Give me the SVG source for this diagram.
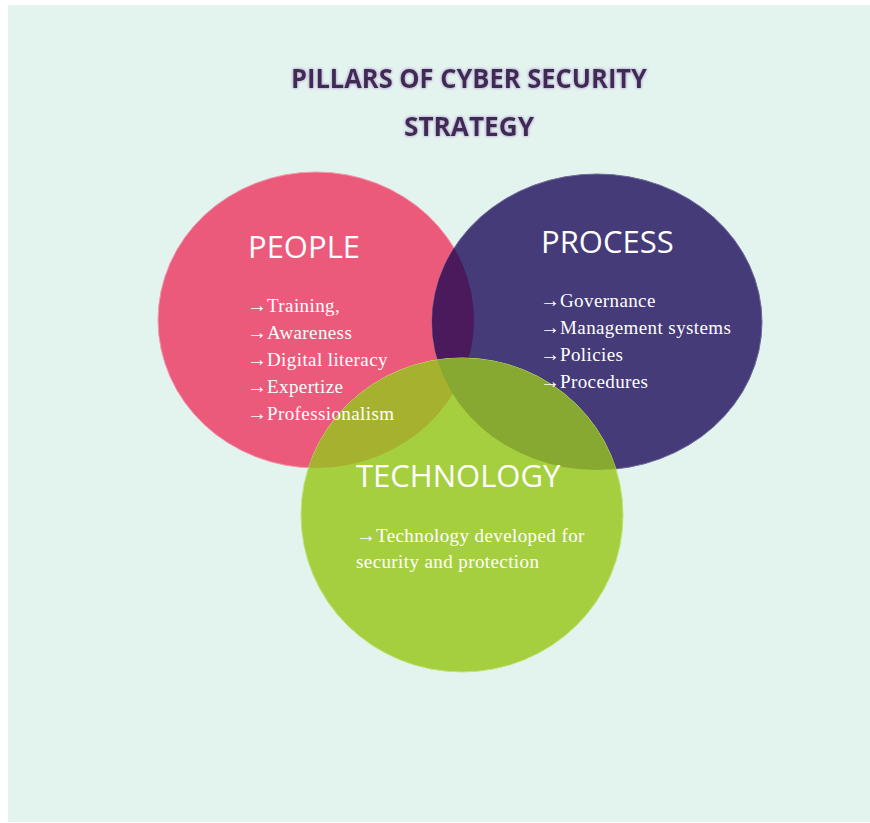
<svg xmlns="http://www.w3.org/2000/svg" width="870" height="823" viewBox="0 0 870 823">
  <style>
    .title { font-family: "Open Sans", "Liberation Sans", sans-serif; font-weight: 700; font-size: 27px; fill: #3F2C55; }
    .head { font-family: "Open Sans", "Liberation Sans", sans-serif; font-size: 31px; fill: #FFFFFF; }
    .item { font-family: "Liberation Serif", "DejaVu Serif", serif; font-size: 19px; letter-spacing: 0.4px; fill: #FFFFFF; }
    .arr { font-size: 20px; letter-spacing: 0; }
  </style>
  <defs>
    <filter id="glow" x="-10%" y="-40%" width="120%" height="180%">
      <feGaussianBlur in="SourceAlpha" stdDeviation="1.6" result="b"/>
      <feFlood flood-color="#B9A8D0" flood-opacity="0.9"/>
      <feComposite in2="b" operator="in" result="g"/>
      <feMerge><feMergeNode in="g"/><feMergeNode in="g"/><feMergeNode in="SourceGraphic"/></feMerge>
    </filter>
    <ellipse id="ePeople" cx="316" cy="320" rx="158" ry="148"/>
    <ellipse id="eProcess" cx="597" cy="322" rx="165" ry="148"/>
    <ellipse id="eTech" cx="462" cy="515" rx="161" ry="157"/>
    <clipPath id="cPeople"><use href="#ePeople"/></clipPath>
    <clipPath id="cProcess"><use href="#eProcess"/></clipPath>
  </defs>

  <rect x="0" y="0" width="870" height="823" fill="#FFFFFF"/>
  <rect x="8" y="5" width="862" height="817" fill="#E3F4EF"/>

  <g id="title" filter="url(#glow)">
    <text class="title" x="469" y="88" text-anchor="middle" textLength="356" lengthAdjust="spacingAndGlyphs">PILLARS OF CYBER SECURITY</text>
    <text class="title" x="469" y="136" text-anchor="middle" textLength="130" lengthAdjust="spacingAndGlyphs">STRATEGY</text>
  </g>

  <!-- circles; overlap lenses are painted with clipped copies -->
  <g id="people-shape">
    <use href="#ePeople" fill="#EB5A7A" stroke="#F29AAE" stroke-width="1"/>
  </g>
  <g id="process-shape">
    <use href="#eProcess" fill="#443B78" stroke="#6F6A99" stroke-width="1"/>
    <use href="#eProcess" fill="#4A1A5C" clip-path="url(#cPeople)"/>
  </g>
  <g id="technology-shape">
    <use href="#eTech" fill="#A5CF3F" stroke="#C3E07A" stroke-width="1"/>
    <use href="#eTech" fill="#A6B22F" clip-path="url(#cPeople)"/>
    <use href="#eTech" fill="#88A931" clip-path="url(#cProcess)"/>
  </g>

  <g id="people">
    <text class="head" x="248" y="258">PEOPLE</text>
    <text class="item" x="247" y="312"><tspan class="arr">→</tspan>Training,</text>
    <text class="item" x="247" y="339"><tspan class="arr">→</tspan>Awareness</text>
    <text class="item" x="247" y="366"><tspan class="arr">→</tspan>Digital literacy</text>
    <text class="item" x="247" y="393"><tspan class="arr">→</tspan>Expertize</text>
    <text class="item" x="247" y="420"><tspan class="arr">→</tspan>Professionalism</text>
  </g>

  <g id="process">
    <text class="head" x="541" y="253">PROCESS</text>
    <text class="item" x="540" y="307"><tspan class="arr">→</tspan>Governance</text>
    <text class="item" x="540" y="334"><tspan class="arr">→</tspan>Management systems</text>
    <text class="item" x="540" y="361"><tspan class="arr">→</tspan>Policies</text>
    <text class="item" x="540" y="388"><tspan class="arr">→</tspan>Procedures</text>
  </g>

  <g id="technology">
    <text class="head" x="356" y="487">TECHNOLOGY</text>
    <text class="item" x="356" y="542"><tspan class="arr">→</tspan>Technology developed for</text>
    <text class="item" x="356" y="568">security and protection</text>
  </g>
</svg>
